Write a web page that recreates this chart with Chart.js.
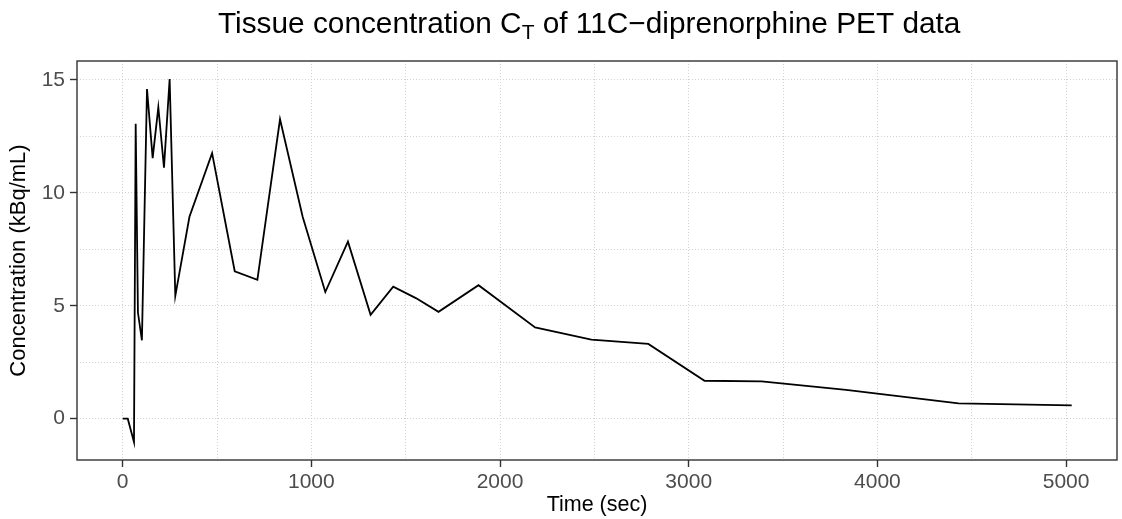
<!DOCTYPE html>
<html>
<head>
<meta charset="utf-8">
<script src="https://cdn.jsdelivr.net/npm/chart.js@4"></script>
<style>
  html, body { margin: 0; padding: 0; background: #fff; }
  #wrap { width: 1122px; height: 519px; position: relative; }
</style>
</head>
<body>
<div id="wrap"><canvas id="chart"></canvas></div>
<script>
// Frame mid-times (sec) and tissue concentration (kBq/mL)
const timeSec = [0, 27, 60, 69, 81, 102, 129, 159, 189, 219, 249, 279, 354, 474, 594, 714,
  834, 954, 1074, 1194, 1314, 1434, 1554, 1674, 1886, 2186, 2484, 2786, 3084, 3386, 3834, 4430, 5030];
const concentration = [0, 0, -1.03, 13.06, 4.7, 3.47, 14.6, 11.54, 13.79, 11.12, 15.04, 5.44, 8.94, 11.76, 6.53, 6.15,
  13.26, 8.94, 5.61, 7.84, 4.6, 5.85, 5.34, 4.73, 5.91, 4.04, 3.5, 3.31, 1.68, 1.65, 1.28, 0.68, 0.59];

// grid lines (major + minor) and which of them get a label
const xGridValues = [0, 500, 1000, 1500, 2000, 2500, 3000, 3500, 4000, 4500, 5000];
const yGridValues = [0, 2.5, 5, 7.5, 10, 12.5, 15];
const xLabelStep = 1000;
const yLabelStep = 5;

const titleMain = 'Tissue concentration C';
const titleSub = 'T';
const titleRest = ' of 11C\u2212diprenorphine PET data';
const xTitle = 'Time (sec)';
const yTitle = 'Concentration (kBq/mL)';

const FONT = '"Liberation Sans", Arial, Helvetica, sans-serif';
Chart.defaults.font.family = FONT;

const isMajor = (v, step) => Math.abs(v / step - Math.round(v / step)) < 1e-9;

// ggplot-like panel border and a title with a subscript
const panelPlugin = {
  id: 'panel',
  afterDatasetsDraw(chart) {
    const { ctx, chartArea: a } = chart;
    ctx.save();
    ctx.strokeStyle = '#333333';
    ctx.lineWidth = 1.4;
    ctx.strokeRect(a.left, a.top, a.right - a.left, a.bottom - a.top);
    ctx.restore();
  },
  afterDraw(chart) {
    const ctx = chart.ctx;
    ctx.save();
    ctx.fillStyle = '#000';
    ctx.textBaseline = 'alphabetic';
    const big = '29.8px ' + FONT;
    const small = '21px ' + FONT;
    let x = 218;
    const base = 33;
    ctx.font = big;
    ctx.fillText(titleMain, x, base);
    x += ctx.measureText(titleMain).width;
    ctx.font = small;
    ctx.fillText(titleSub, x, base + 6);
    x += ctx.measureText(titleSub).width;
    ctx.font = big;
    ctx.fillText(titleRest, x, base);
    ctx.restore();
  }
};

const ctx = document.getElementById('chart').getContext('2d');
new Chart(ctx, {
  type: 'line',
  data: {
    datasets: [{
      data: timeSec.map((t, i) => ({ x: t, y: concentration[i] })),
      borderColor: '#000000',
      borderWidth: 1.8,
      pointRadius: 0,
      tension: 0,
      fill: false
    }]
  },
  options: {
    responsive: true,
    maintainAspectRatio: false,
    animation: false,
    layout: { padding: { top: 61, right: 5, left: 0, bottom: 0 } },
    plugins: { legend: { display: false }, tooltip: { enabled: false }, title: { display: false } },
    scales: {
      x: {
        type: 'linear',
        min: -242,
        max: 5270,
        afterBuildTicks: (axis) => { axis.ticks = xGridValues.map(v => ({ value: v })); },
        afterFit: (scale) => { scale.height = 59; },
        ticks: {
          autoSkip: false,
          maxRotation: 0,
          padding: 3,
          color: '#4d4d4d',
          font: { size: 21 },
          callback: (v) => isMajor(v, xLabelStep) ? String(v) : ''
        },
        grid: {
          color: '#d2d2d2',
          lineWidth: 1,
          tickLength: 7,
          tickWidth: 1.4,
          tickColor: (c) => (c.tick && isMajor(c.tick.value, xLabelStep)) ? '#333333' : 'rgba(0,0,0,0)'
        },
        border: { display: false, dash: [1, 2] },
        title: { display: true, text: xTitle, color: '#000', font: { size: 21.5 }, padding: { top: 0, bottom: 1 } }
      },
      y: {
        min: -1.83,
        max: 15.84,
        afterBuildTicks: (axis) => { axis.ticks = yGridValues.map(v => ({ value: v })); },
        afterFit: (scale) => { scale.width = 77; },
        ticks: {
          autoSkip: false,
          padding: 5,
          color: '#4d4d4d',
          font: { size: 21 },
          callback: (v) => isMajor(v, yLabelStep) ? String(v) : ''
        },
        grid: {
          color: '#d2d2d2',
          lineWidth: 1,
          tickLength: 7,
          tickWidth: 1.4,
          tickColor: (c) => (c.tick && isMajor(c.tick.value, yLabelStep)) ? '#333333' : 'rgba(0,0,0,0)'
        },
        border: { display: false, dash: [1, 2] },
        title: { display: true, text: yTitle, color: '#000', font: { size: 22 }, padding: { top: 6, bottom: 0 } }
      }
    }
  },
  plugins: [panelPlugin]
});
</script>
</body>
</html>
